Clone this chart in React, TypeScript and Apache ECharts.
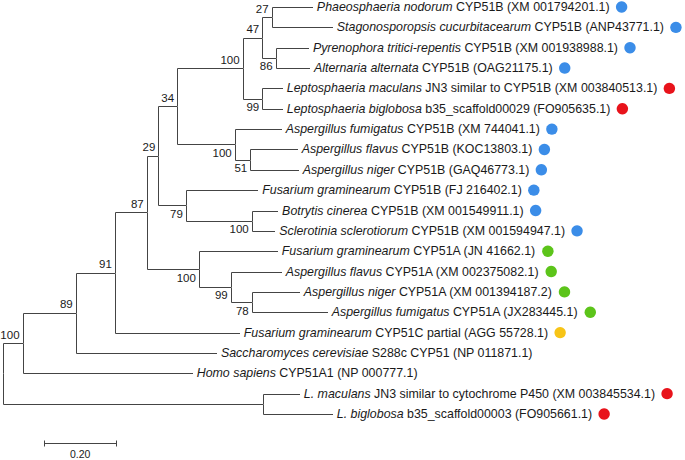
import React, { useEffect, useRef } from "react";
import * as echarts from "echarts";

// ---- Tree data ----
// Internal nodes (name, parent, branch length, bootstrap support)
const nodeNames = ["root", "n100a", "n89", "n91", "n87", "n29", "n34", "n100b", "n47", "n27", "n86", "n99a", "n100c", "n51", "n79", "n100d", "n100e", "n99b", "n78", "nL"];
const nodeParents = ["", "root", "n100a", "n89", "n91", "n87", "n29", "n34", "n100b", "n47", "n47", "n100b", "n34", "n100c", "n29", "n79", "n87", "n100e", "n99b", "root"];
const nodeLengths = [0, 0.054, 0.147, 0.108, 0.088, 0.032, 0.052, 0.181, 0.054, 0.026, 0.037, 0.054, 0.159, 0.043, 0.076, 0.182, 0.144, 0.088, 0.058, 0.718];
const nodeSupport = [null, 100, 89, 91, 87, 29, 34, 100, 47, 27, 86, 99, 100, 51, 79, 100, 100, 99, 78, null];

// Leaves in display order (top to bottom)
const leafSpecies = [
  "Phaeosphaeria nodorum", "Stagonosporopsis cucurbitacearum", "Pyrenophora tritici-repentis", "Alternaria alternata",
  "Leptosphaeria maculans", "Leptosphaeria biglobosa", "Aspergillus fumigatus", "Aspergillus flavus", "Aspergillus niger",
  "Fusarium graminearum", "Botrytis cinerea", "Sclerotinia sclerotiorum", "Fusarium graminearum", "Aspergillus flavus",
  "Aspergillus niger", "Aspergillus fumigatus", "Fusarium graminearum", "Saccharomyces cerevisiae", "Homo sapiens",
  "L. maculans", "L. biglobosa",
];
const leafDetails = [
  "CYP51B (XM 001794201.1)", "CYP51B (ANP43771.1)", "CYP51B (XM 001938988.1)", "CYP51B (OAG21175.1)",
  "JN3 similar to CYP51B (XM 003840513.1)", "b35_scaffold00029 (FO905635.1)", "CYP51B (XM 744041.1)", "CYP51B (KOC13803.1)",
  "CYP51B (GAQ46773.1)", "CYP51B (FJ 216402.1)", "CYP51B (XM 001549911.1)", "CYP51B (XM 001594947.1)",
  "CYP51A (JN 41662.1)", "CYP51A (XM 002375082.1)", "CYP51A (XM 001394187.2)", "CYP51A (JX283445.1)",
  "CYP51C partial (AGG 55728.1)", "S288c CYP51 (NP 011871.1)", "CYP51A1 (NP 000777.1)",
  "JN3 similar to cytochrome P450 (XM 003845534.1)", "b35_scaffold00003 (FO905661.1)",
];
const leafParents = ["n27", "n27", "n86", "n86", "n99a", "n99a", "n100c", "n51", "n51", "n79", "n100d", "n100d", "n100e", "n99b", "n78", "n78", "n91", "n89", "n100a", "nL", "nL"];
const leafLengths = [0.114, 0.169, 0.092, 0.095, 0.057, 0.057, 0.130, 0.131, 0.134, 0.200, 0.073, 0.065, 0.218, 0.141, 0.133, 0.210, 0.345, 0.390, 0.470, 0.102, 0.193];
const leafMarkers = ["blue", "blue", "blue", "blue", "red", "red", "blue", "blue", "blue", "blue", "blue", "blue", "green", "green", "green", "green", "yellow", "", "", "red", "red"];

const scaleBarValue = 0.2;
const scaleBarLabel = "0.20";

// ---- Styles ----
const markerColors: Record<string, string> = { blue: "#3b8de8", red: "#e8131b", green: "#5cc41a", yellow: "#f7c417" };
const FONT = '"Liberation Sans", Arial, sans-serif';
const LEAF_SIZE = 12.4;
const SUP_SIZE = 11.5;
const LINE = "#444";
const TEXT = "#1a1a1a";

let measureCtx: CanvasRenderingContext2D | null = null;
function measure(text: string, font: string): number {
  if (!measureCtx) measureCtx = document.createElement("canvas").getContext("2d");
  measureCtx!.font = font;
  return measureCtx!.measureText(text).width;
}

function buildTree() {
  const depth: Record<string, number> = {};
  const yPos: Record<string, number> = {};
  const childYs: Record<string, number[]> = {};
  nodeNames.forEach((n) => (childYs[n] = []));
  const idx = (n: string) => nodeNames.indexOf(n);
  const getDepth = (n: string): number => {
    if (depth[n] !== undefined) return depth[n];
    const i = idx(n);
    const p = nodeParents[i];
    depth[n] = p ? getDepth(p) + nodeLengths[i] : 0;
    return depth[n];
  };
  nodeNames.forEach(getDepth);
  leafParents.forEach((p, i) => childYs[p].push(i));
  const getY = (n: string): number => {
    if (yPos[n] !== undefined) return yPos[n];
    const ys = [...childYs[n]];
    nodeNames.forEach((m, j) => {
      if (nodeParents[j] === n) ys.push(getY(m));
    });
    yPos[n] = (Math.min(...ys) + Math.max(...ys)) / 2;
    return yPos[n];
  };
  nodeNames.forEach(getY);

  // items: [parentDepth, depth, y, parentY, kind(0 node,1 leaf), index]
  const items: number[][] = [];
  nodeNames.forEach((n, i) => {
    const p = nodeParents[i];
    if (!p) return;
    items.push([depth[p], depth[n], yPos[n], yPos[p], 0, i]);
  });
  leafParents.forEach((p, i) => {
    items.push([depth[p], depth[p] + leafLengths[i], i, yPos[p], 1, i]);
  });
  return items;
}

const px = (v: number) => Math.round(v) + 0.5;

export default function App() {
  const ref = useRef<HTMLDivElement>(null);
  useEffect(() => {
    if (!ref.current) return;
    const chart = echarts.init(ref.current, undefined, { renderer: "svg" });
    const items = buildTree();
    const pxPerUnit = 362;
    const option: any = {
      animation: false,
      backgroundColor: "#ffffff",
      grid: { left: 3, top: 7, width: pxPerUnit * 1.8, height: 407 },
      xAxis: { type: "value", min: 0, max: 1.8, show: false },
      yAxis: { type: "value", min: 0, max: 20, inverse: true, show: false },
      series: [
        {
          type: "custom",
          silent: true,
          clip: false,
          data: items,
          renderItem: (params: any, api: any) => {
            const pd = api.value(0), d = api.value(1), y = api.value(2), py = api.value(3);
            const kind = api.value(4), i = api.value(5);
            const p0 = api.coord([pd, py]);
            const p1 = api.coord([pd, y]);
            const p2 = api.coord([d, y]);
            const children: any[] = [
              {
                type: "polyline",
                shape: { points: [[px(p0[0]), px(p0[1])], [px(p1[0]), px(p1[1])], [Math.round(p2[0]), px(p2[1])]] },
                style: { stroke: LINE, lineWidth: 1, fill: null },
              },
            ];
            if (kind === 1) {
              const sp = leafSpecies[i];
              const rest = " " + leafDetails[i];
              const tx = p2[0] + 4;
              children.push({
                type: "text",
                x: tx,
                y: p2[1],
                style: {
                  text: "{i|" + sp + "}" + rest,
                  rich: { i: { fontStyle: "italic", fontSize: LEAF_SIZE, fontFamily: FONT, fill: TEXT } },
                  fontSize: LEAF_SIZE,
                  fontFamily: FONT,
                  fill: TEXT,
                  align: "left",
                  verticalAlign: "middle",
                },
              });
              const m = leafMarkers[i];
              if (m) {
                const w = measure(sp, `italic ${LEAF_SIZE}px ${FONT}`) + measure(rest, `${LEAF_SIZE}px ${FONT}`);
                children.push({
                  type: "circle",
                  shape: { cx: tx + w + 12, cy: p2[1], r: 5.7 },
                  style: { fill: markerColors[m] },
                });
              }
            } else {
              const s = nodeSupport[i];
              if (s !== null && s !== undefined) {
                const above = y < py;
                children.push({
                  type: "text",
                  x: p2[0] - 3,
                  y: p2[1] + (above ? -8.5 : 8.5),
                  style: {
                    text: String(s),
                    fontSize: SUP_SIZE,
                    fontFamily: FONT,
                    fill: TEXT,
                    align: "right",
                    verticalAlign: "middle",
                  },
                });
              }
            }
            return { type: "group", children };
          },
        },
        {
          type: "custom",
          silent: true,
          clip: false,
          data: [[0.113, scaleBarValue, 21.42]],
          renderItem: (params: any, api: any) => {
            const x0 = api.value(0), len = api.value(1), yy = api.value(2);
            const a = api.coord([x0, yy]);
            const b = api.coord([x0 + len, yy]);
            const y = px(a[1]);
            return {
              type: "group",
              children: [
                { type: "line", shape: { x1: px(a[0]), y1: y, x2: px(b[0]), y2: y }, style: { stroke: LINE, lineWidth: 1 } },
                { type: "line", shape: { x1: px(a[0]), y1: y - 3, x2: px(a[0]), y2: y + 3 }, style: { stroke: LINE, lineWidth: 1 } },
                { type: "line", shape: { x1: px(b[0]), y1: y - 3, x2: px(b[0]), y2: y + 3 }, style: { stroke: LINE, lineWidth: 1 } },
                {
                  type: "text",
                  x: (a[0] + b[0]) / 2,
                  y: y + 10,
                  style: { text: scaleBarLabel, fontSize: 10.5, fontFamily: FONT, fill: TEXT, align: "center", verticalAlign: "middle" },
                },
              ],
            };
          },
        },
      ],
    };
    chart.setOption(option);
    return () => chart.dispose();
  }, []);
  return <div ref={ref} style={{ position: "absolute", left: 0, top: 0, width: 685, height: 460 }} />;
}
